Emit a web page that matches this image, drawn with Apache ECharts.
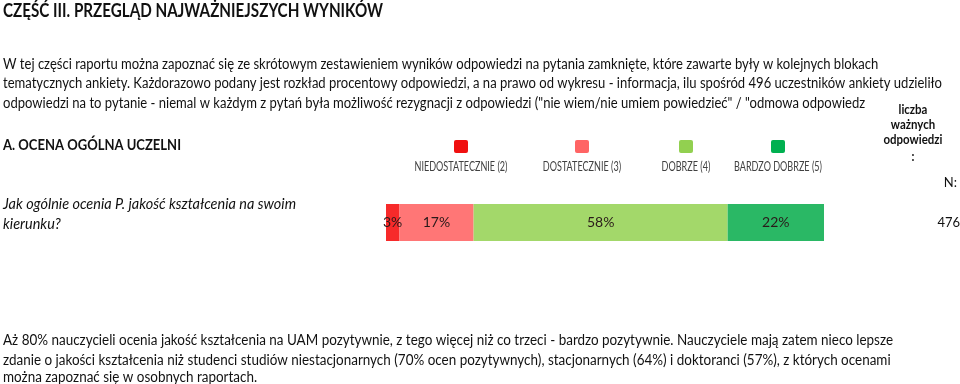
<!DOCTYPE html>
<html><head><meta charset="utf-8">
<script src="https://cdn.jsdelivr.net/npm/echarts@6/dist/echarts.min.js"></script>
<style>html,body{margin:0;padding:0;background:#fff}#c{width:960px;height:384px}</style>
</head><body><div id="c"></div>
<script>
// ---- data ----
const categories = ['Jak ogólnie ocenia P. jakość kształcenia na swoim kierunku?'];
const seriesNames = ['NIEDOSTATECZNIE (2)', 'DOSTATECZNIE (3)', 'DOBRZE (4)', 'BARDZO DOBRZE (5)'];
const niedostatecznie = [3];
const dostatecznie = [17];
const dobrze = [58];
const bardzoDobrze = [22];
const validN = [476];
const barColors = ['#f72a2a', '#ff7676', '#a3d86a', '#2ab865'];
const legendColors = ['#f01010', '#ff6464', '#92d050', '#00b050'];

const titleText = 'CZĘŚĆ III. PRZEGLĄD NAJWAŻNIEJSZYCH WYNIKÓW';
const introLines = [
  'W tej części raportu można zapoznać się ze skrótowym zestawieniem wyników odpowiedzi na pytania zamknięte, które zawarte były w kolejnych blokach',
  'tematycznych ankiety. Każdorazowo podany jest rozkład procentowy odpowiedzi, a na prawo od wykresu - informacja, ilu spośród 496 uczestników ankiety udzieliło',
  'odpowiedzi na to pytanie - niemal w każdym z pytań była możliwość rezygnacji z odpowiedzi ("nie wiem/nie umiem powiedzieć" / "odmowa odpowiedz'
];
const sectionText = 'A. OCENA OGÓLNA UCZELNI';
const questionLines = ['Jak ogólnie ocenia P. jakość kształcenia na swoim', 'kierunku?'];
const countHeaderLines = ['liczba', 'ważnych', 'odpowiedzi', ':'];
const nLabel = 'N:';
const summaryLines = [
  'Aż 80% nauczycieli ocenia jakość kształcenia na UAM pozytywnie, z tego więcej niż co trzeci - bardzo pozytywnie. Nauczyciele mają zatem nieco lepsze',
  'zdanie o jakości kształcenia niż studenci studiów niestacjonarnych (70% ocen pozytywnych), stacjonarnych (64%) i doktoranci (57%), z których ocenami',
  'można zapoznać się w osobnych raportach.'
];

// ---- helpers ----
const FAM = 'Lato, "Noto Sans", sans-serif';
const mctx = document.createElement('canvas').getContext('2d');
function font(style, weight, size) { return style + ' ' + weight + ' ' + size + 'px ' + FAM; }
function measure(text, f) { mctx.font = f; return mctx.measureText(text).width; }
function txt(text, x, y, f, align, color, sx) {
  return { type: 'text', x: x, y: y, scaleX: sx || 1, silent: true,
    style: { text: text, x: 0, y: 0, font: f, fill: color || '#111', textAlign: align || 'left', textVerticalAlign: 'middle' } };
}
function block(lines, refIdx, targetW, x, ys, f, align, color) {
  const sx = targetW / measure(lines[refIdx], f);
  return lines.map((l, i) => txt(l, x, ys[i], f, align, color, sx));
}

const g = [];
g.push(...block([titleText], 0, 380, 3, [11], font('normal', 'bold', 18)));
g.push(...block(introLines, 1, 939, 3, [64, 83, 103], font('normal', 'normal', 14.5)));
g.push(...block([sectionText], 0, 178, 3, [145], font('normal', 'bold', 15)));
g.push(...block(questionLines, 0, 293, 3, [204, 224], font('italic', 'normal', 15)));
g.push(...block(countHeaderLines, 2, 59, 913, [110, 125, 140, 157], font('normal', 'bold', 13), 'center'));
g.push(txt(nLabel, 957, 183, font('normal', 'normal', 13), 'right'));
g.push(txt(String(validN[0]), 960, 223, font('normal', 'normal', 13), 'right'));
const legX = [461, 582, 686, 778];
const legFont = font('normal', 'normal', 12.5);
const legSx = 93 / measure(seriesNames[0], legFont);
seriesNames.forEach((n, i) => {
  g.push({ type: 'rect', silent: true, shape: { x: legX[i] - 7, y: 140, width: 14, height: 13, r: 2 },
    style: { fill: legendColors[i] } });
  g.push(txt(n, legX[i], 167, legFont, 'center', '#404040', legSx));
});
g.push(...block(summaryLines, 0, 890, 3, [340, 360, 377], font('normal', 'normal', 14.5)));

const vals = [niedostatecznie, dostatecznie, dobrze, bardzoDobrze];
const series = seriesNames.map((n, i) => ({
  name: n, type: 'bar', stack: 'all', data: vals[i], barWidth: '100%',
  itemStyle: { color: barColors[i] },
  label: { show: true, position: 'inside', formatter: '{c}%', color: '#2a1a1a',
    fontFamily: FAM, fontSize: 14 },
  silent: true
}));

const chart = echarts.init(document.getElementById('c'), null, { renderer: 'canvas' });
chart.setOption({
  animation: false,
  backgroundColor: '#ffffff',
  grid: { left: 386, right: 136, top: 204, height: 37, containLabel: false },
  xAxis: { type: 'value', min: 0, max: 100, show: false },
  yAxis: { type: 'category', data: categories, show: false },
  series: series,
  graphic: g
});
</script></body></html>
